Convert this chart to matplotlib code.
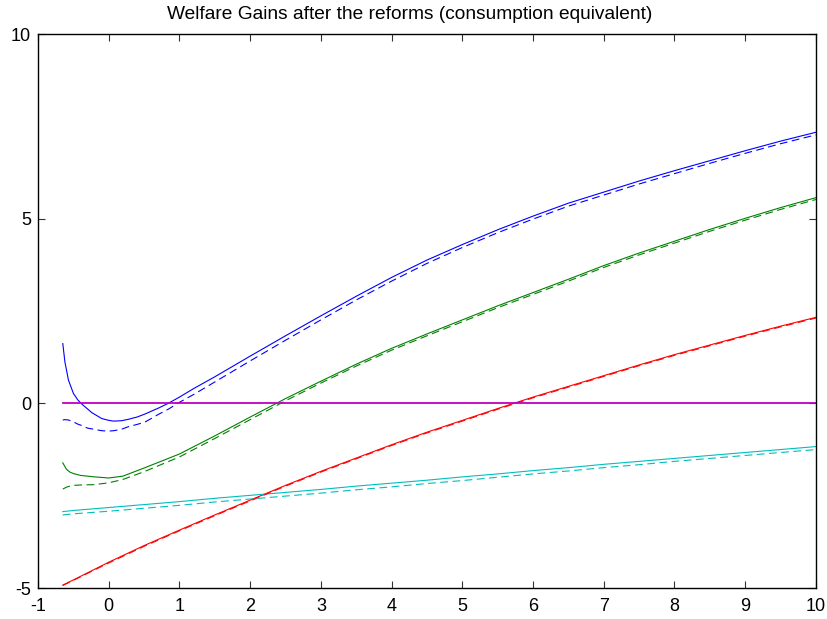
import matplotlib
matplotlib.use("Agg")
import matplotlib.pyplot as plt

plt.rcParams['font.family'] = ['Liberation Sans', 'DejaVu Sans']
plt.rcParams['axes.unicode_minus'] = False

# reform gains (% consumption equivalent) against the x grid
x_blue = [-0.65, -0.62, -0.57, -0.5, -0.44, -0.38, -0.3, -0.24, -0.1, 0.0, 0.07, 0.18, 0.28, 0.4, 0.51,
          0.7, 0.84, 1.0, 1.2, 1.5, 2.0, 2.5, 3.0, 3.5, 4.0, 4.5, 5.0, 5.5, 6.0, 6.5, 7.0, 7.5,
          8.0, 8.5, 9.0, 9.5, 10.0]
blue = [1.62, 1.12, 0.63, 0.27, 0.1, -0.02, -0.15, -0.25, -0.41, -0.46, -0.48, -0.47, -0.43, -0.37, -0.29,
        -0.13, 0.0, 0.17, 0.4, 0.72, 1.28, 1.83, 2.37, 2.9, 3.41, 3.88, 4.3, 4.7, 5.07, 5.42, 5.72, 6.02,
        6.3, 6.57, 6.84, 7.1, 7.34]
blue_d = [-0.45, -0.44, -0.45, -0.5, -0.56, -0.6, -0.67, -0.69, -0.74, -0.75, -0.74, -0.7, -0.63, -0.57, -0.51,
          -0.3, -0.16, 0.03, 0.24, 0.58, 1.15, 1.71, 2.26, 2.8, 3.31, 3.79, 4.22, 4.62, 4.99, 5.34, 5.64, 5.94,
          6.22, 6.5, 6.77, 7.03, 7.27]

x_green = [-0.65, -0.6, -0.55, -0.5, -0.4, -0.2, 0.0, 0.2, 0.5, 1.0, 1.5, 2.0, 2.5, 3.0, 3.5, 4.0,
           4.5, 5.0, 5.5, 6.0, 6.5, 7.0, 7.5, 8.0, 8.5, 9.0, 9.5, 10.0]
green = [-1.61, -1.78, -1.86, -1.9, -1.95, -1.99, -2.02, -1.97, -1.75, -1.37, -0.88, -0.37, 0.13, 0.6, 1.06, 1.49,
         1.88, 2.26, 2.64, 3.0, 3.36, 3.73, 4.07, 4.39, 4.71, 5.01, 5.3, 5.57]
green_d = [-2.32, -2.27, -2.24, -2.22, -2.21, -2.2, -2.15, -2.06, -1.85, -1.45, -0.95, -0.44, 0.07, 0.55, 1.01, 1.44,
           1.83, 2.21, 2.59, 2.95, 3.31, 3.68, 4.02, 4.34, 4.66, 4.96, 5.25, 5.52]

x_lin = [-0.65, -0.5, 0.0, 0.5, 1.0, 1.5, 2.0, 2.5, 3.0, 3.5, 4.0, 4.5, 5.0, 5.5, 6.0,
         6.5, 7.0, 7.5, 8.0, 8.5, 9.0, 9.5, 10.0]
red = [-4.92, -4.78, -4.3, -3.85, -3.43, -3.02, -2.62, -2.22, -1.84, -1.48, -1.12, -0.78, -0.46, -0.14, 0.17,
       0.46, 0.75, 1.04, 1.32, 1.58, 1.84, 2.09, 2.33]
red_d = [-4.93, -4.79, -4.32, -3.87, -3.45, -3.04, -2.64, -2.24, -1.86, -1.5, -1.14, -0.8, -0.48, -0.16, 0.15,
         0.44, 0.73, 1.02, 1.3, 1.56, 1.82, 2.07, 2.31]
cyan = [-2.93, -2.9, -2.82, -2.74, -2.66, -2.57, -2.49, -2.41, -2.33, -2.24, -2.16, -2.08, -1.99, -1.91, -1.82,
        -1.74, -1.65, -1.57, -1.49, -1.41, -1.33, -1.25, -1.17]
cyan_d = [-3.02, -2.99, -2.92, -2.84, -2.76, -2.67, -2.59, -2.51, -2.43, -2.34, -2.26, -2.17, -2.09, -2.0, -1.91,
          -1.83, -1.74, -1.66, -1.57, -1.49, -1.41, -1.33, -1.25]

x_zero = [-0.65, 10.0]
zero = [0.0, 0.0]

xticks = list(range(-1, 11))
yticks = [-5, 0, 5, 10]

c_blue = (0, 0, 1)
c_green = (0, 0.5, 0)
c_red = (1, 0, 0)
c_cyan = (0, 0.75, 0.75)
c_mag = (0.75, 0, 0.75)
dash = (0, (7, 4))

fig = plt.figure(figsize=(8.27, 6.19), dpi=100)
ax = fig.add_axes([0.046, 0.05, 0.9405, 0.895])

lw = 0.8
ax.plot(x_blue, blue, color=c_blue, lw=lw)
ax.plot(x_green, green, color=c_green, lw=lw)
ax.plot(x_lin, red, color=c_red, lw=lw)
ax.plot(x_lin, cyan, color=c_cyan, lw=lw)
ax.plot(x_blue, blue_d, color=c_blue, lw=lw, linestyle=dash)
ax.plot(x_green, green_d, color=c_green, lw=lw, linestyle=dash)
ax.plot(x_lin, red_d, color=c_red, lw=lw, linestyle=dash)
ax.plot(x_lin, cyan_d, color=c_cyan, lw=lw, linestyle=dash)
ax.plot(x_zero, zero, color=c_mag, lw=1.3)

ax.set_xlim(-1, 10)
ax.set_ylim(-5, 10)
ax.set_xticks(xticks)
ax.set_yticks(yticks)
ax.tick_params(direction='in', length=5, width=0.8, top=True, right=True,
               labelsize=13, color='#333333')
ax.tick_params(axis='x', pad=7)
ax.tick_params(axis='y', pad=5)
for s in ax.spines.values():
    s.set_linewidth(1.0)
ax.set_title('Welfare Gains after the reforms (consumption equivalent)', fontsize=13.8, pad=11, x=0.478)

fig.savefig('out.png', dpi=100)
